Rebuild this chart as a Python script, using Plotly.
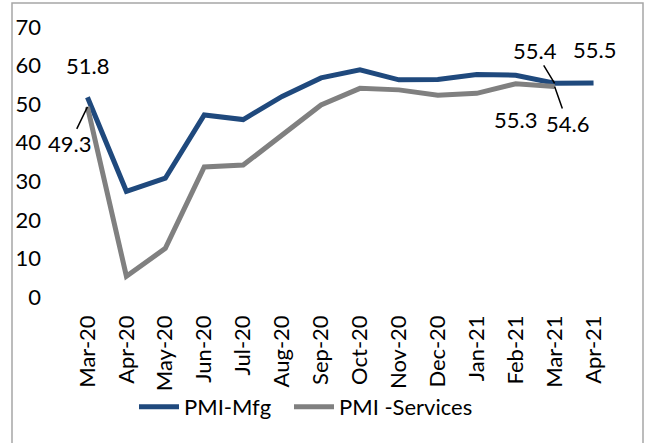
import plotly.graph_objects as go

months = ["Mar-20", "Apr-20", "May-20", "Jun-20", "Jul-20", "Aug-20", "Sep-20",
          "Oct-20", "Nov-20", "Dec-20", "Jan-21", "Feb-21", "Mar-21", "Apr-21"]
pmi_mfg = [51.8, 27.4, 30.8, 47.2, 46.0, 52.0, 56.8, 58.9, 56.3, 56.4, 57.7, 57.5, 55.4, 55.5]
pmi_services = [49.3, 5.4, 12.6, 33.7, 34.2, 41.8, 49.8, 54.1, 53.7, 52.3, 52.8, 55.3, 54.6, None]
y_ticks = [0, 10, 20, 30, 40, 50, 60, 70]

BLUE = "#1F497D"
GREY = "#808080"
FONT = "Lato"

W, H = 650, 443
ML, MR, MT, MB = 68, 37, 27, 146
PW, PH = W - ML - MR, H - MT - MB

fig = go.Figure()
fig.add_trace(go.Scatter(x=months, y=pmi_mfg, mode="lines", name="PMI-Mfg",
                         line=dict(color=BLUE, width=5), legend="legend"))
fig.add_trace(go.Scatter(x=months, y=pmi_services, mode="lines", name="PMI -Services",
                         line=dict(color=GREY, width=5), legend="legend2"))

def lab(xi, yv, text, xs=0, ys=0):
    fig.add_annotation(x=months[xi], y=yv, text=text, showarrow=False,
                       xshift=xs, yshift=ys, font=dict(family=FONT, size=22, color="black"))

def lead(xi, yv, text, ax, ay):
    fig.add_annotation(x=months[xi], y=yv, text=text, showarrow=True, arrowhead=0,
                       arrowwidth=1.5, arrowcolor="black", ax=ax, ay=ay, standoff=0,
                       font=dict(family=FONT, size=22, color="black"))

lab(0, pmi_mfg[0], "51.8", xs=0, ys=32)
lead(0, pmi_services[0], "49.3", -18, 37)
lead(12, pmi_mfg[12], "55.4", -20, -33)
lab(13, pmi_mfg[13], "55.5", xs=1, ys=33)
lab(11, pmi_services[11], "55.3", xs=0, ys=-36)
lead(12, pmi_services[12], "54.6", 13, 37)

# outer chart border
fig.add_shape(type="rect", xref="paper", yref="paper",
              x0=(12 - ML) / PW, x1=(643 - ML) / PW,
              y0=(H - MB - 460) / PH, y1=(H - MB - 3) / PH,
              line=dict(color="#A6A6A6", width=1.5), layer="below")

leg_common = dict(orientation="h", xanchor="left", y=(297 - 407) / PH, yanchor="middle",
                  bgcolor="rgba(0,0,0,0)", font=dict(family=FONT, size=22),
                  itemwidth=40, tracegroupgap=0)

fig.update_layout(
    width=W, height=H,
    margin=dict(l=ML, r=MR, t=MT, b=MB, autoexpand=False),
    paper_bgcolor="white", plot_bgcolor="white",
    font=dict(family=FONT, size=22, color="black"),
    showlegend=True,
    legend=dict(x=(134 - ML) / PW, **leg_common),
    legend2=dict(x=(289 - ML) / PW, **leg_common),
)
fig.update_xaxes(type="category", range=[-0.5, 13.5], tickangle=-90, showgrid=False,
                 showline=False, ticks="", automargin=False, ticklabelstandoff=13,
                 tickfont=dict(family=FONT, size=22))
fig.update_yaxes(range=[0, 70], tickvals=y_ticks, showgrid=False, showline=False,
                 zeroline=False, ticks="", automargin=False, ticklabelstandoff=26,
                 tickfont=dict(family=FONT, size=22))

fig.write_html("out.html", config={"displayModeBar": False},
               post_script="document.body.style.margin='0';document.body.style.overflow='hidden';")
